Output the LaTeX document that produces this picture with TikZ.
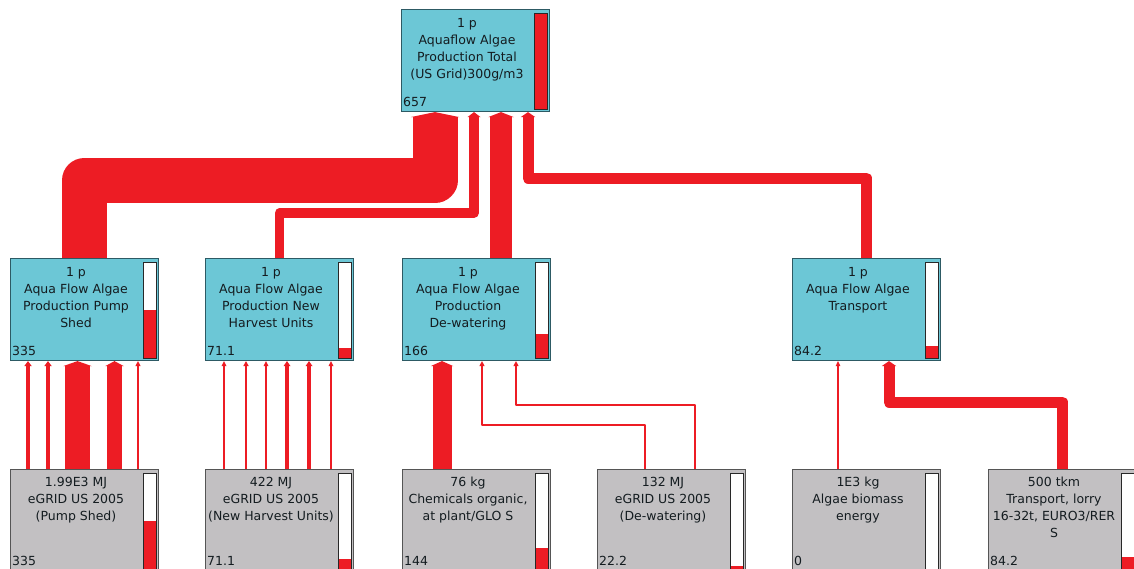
\documentclass[tikz,border=0pt]{standalone}
\usepackage{fontspec}
\setmainfont{DejaVu Sans}
\usetikzlibrary{arrows.meta,calc}
\pgfdeclarelayer{background}
\pgfsetlayers{background,main}
\definecolor{flowred}{RGB}{237,28,36}
\definecolor{procfill}{RGB}{108,199,214}
\definecolor{procdraw}{RGB}{45,90,100}
\definecolor{inpfill}{RGB}{194,192,194}
\definecolor{inpdraw}{RGB}{85,85,85}
\definecolor{txtcol}{RGB}{20,28,32}
\definecolor{bardraw}{RGB}{40,40,40}
\newcommand\gauge[2]{%
  \draw[fill=white, draw=bardraw, line width=0.9pt] ($(#1.north east)+(-16,4)$) rectangle ($(#1.south east)+(-3,-3)$);
  \fill[flowred] ($(#1.south east)+(-16,-3-95*#2)$) rectangle ($(#1.south east)+(-3,-3)$);
  \draw[draw=bardraw, line width=0.9pt] ($(#1.north east)+(-16,4)$) rectangle ($(#1.south east)+(-3,-3)$);
}
\begin{document}
\begin{tikzpicture}[x=1pt,y=-1pt,
  box/.style={rectangle, minimum width=148pt, minimum height=102pt, anchor=north west, inner sep=0pt, line width=1.1pt},
  proc/.style={box, fill=procfill, draw=procdraw},
  inp/.style={box, fill=inpfill, draw=inpdraw},
  lbl/.style={font=\fontsize{12.5}{17}\selectfont, text=txtcol, align=center, inner sep=0pt, anchor=north},
  val/.style={font=\fontsize{12.5}{15}\selectfont, text=txtcol, inner sep=0pt, anchor=base west},
  flow/.style={draw=flowred, line width=#1, line join=round, -{Triangle[length=5pt, width=3.5pt 1, line width=0pt]}},
]
\useasboundingbox (0,0) rectangle (1134,569);

% nodes
\node[proc] (top) at (401,9) {};
\node[proc] (pumpm) at (10,258) {};
\node[proc] (harvm) at (205,258) {};
\node[proc] (dewm) at (402,258) {};
\node[proc] (transm) at (792,258) {};
\node[inp] (pumpb) at (10,469) {};
\node[inp] (harvb) at (205,469) {};
\node[inp] (chemb) at (402,469) {};
\node[inp] (dewb) at (597,469) {};
\node[inp] (algb) at (792,469) {};
\node[inp] (lorryb) at (988,469) {};

% gauges
\gauge{top}{1}
\gauge{pumpm}{0.51}
\gauge{harvm}{0.108}
\gauge{dewm}{0.253}
\gauge{transm}{0.128}
\gauge{pumpb}{0.51}
\gauge{harvb}{0.108}
\gauge{chemb}{0.219}
\gauge{dewb}{0.034}
\draw[fill=white, draw=bardraw, line width=0.9pt] ($(algb.north east)+(-16,4)$) rectangle ($(algb.south east)+(-3,-3)$);
\gauge{lorryb}{0.128}

% labels
\node[lbl] at ($(top.north west)+(66,9)$) {1 p\\Aquaflow Algae\\Production Total\\(US Grid)300g/m3};
\node[lbl] at ($(pumpm.north west)+(66,9)$) {1 p\\Aqua Flow Algae\\Production Pump\\Shed};
\node[lbl] at ($(harvm.north west)+(66,9)$) {1 p\\Aqua Flow Algae\\Production New\\Harvest Units};
\node[lbl] at ($(dewm.north west)+(66,9)$) {1 p\\Aqua Flow Algae\\Production\\De-watering};
\node[lbl] at ($(transm.north west)+(66,9)$) {1 p\\Aqua Flow Algae\\Transport};
\node[lbl] at ($(pumpb.north west)+(66,8)$) {1.99E3 MJ\\eGRID US 2005\\(Pump Shed)};
\node[lbl] at ($(harvb.north west)+(66,8)$) {422 MJ\\eGRID US 2005\\(New Harvest Units)};
\node[lbl] at ($(chemb.north west)+(66,8)$) {76 kg\\Chemicals organic,\\at plant/GLO S};
\node[lbl] at ($(dewb.north west)+(66,8)$) {132 MJ\\eGRID US 2005\\(De-watering)};
\node[lbl] at ($(algb.north west)+(66,8)$) {1E3 kg\\Algae biomass\\energy};
\node[lbl] at ($(lorryb.north west)+(66,8)$) {500 tkm\\Transport, lorry\\16-32t, EURO3/RER\\S};

\node[val] at ($(top.south west)+(2,-5.5)$) {657};
\node[val] at ($(pumpm.south west)+(2,-5.5)$) {335};
\node[val] at ($(harvm.south west)+(2,-5.5)$) {71.1};
\node[val] at ($(dewm.south west)+(2,-5.5)$) {166};
\node[val] at ($(transm.south west)+(2,-5.5)$) {84.2};
\node[val] at ($(pumpb.south west)+(2,-6.5)$) {335};
\node[val] at ($(harvb.south west)+(2,-6.5)$) {71.1};
\node[val] at ($(chemb.south west)+(2,-6.5)$) {144};
\node[val] at ($(dewb.south west)+(2,-6.5)$) {22.2};
\node[val] at ($(algb.south west)+(2,-6.5)$) {0};
\node[val] at ($(lorryb.south west)+(2,-6.5)$) {84.2};

% slots on top node
\coordinate (s1) at ($(top.south west)+(34,0)$);
\coordinate (s2) at ($(top.south west)+(73,0)$);
\coordinate (s3) at ($(top.south west)+(100,0)$);
\coordinate (s4) at ($(top.south west)+(127,0)$);

\begin{pgfonlayer}{background}
\fill[white] (0,0) rectangle (1134,569);
\draw[flow=45pt] (pumpm.north) |- ($(s1)+(0,68)$) -- (s1);
\draw[flow=9.5pt] (harvm.north) |- ($(s2)+(0,101)$) -- (s2);
\draw[flow=22pt] (s3 |- dewm.north) -- (s3);
\draw[flow=11pt] (transm.north) |- ($(s4)+(0,66)$) -- (s4);

\foreach \o/\w in {18/4, 38/4, 67.5/25, 104.5/15, 128/1.8}
  \draw[flow=\w pt] ($(pumpb.north west)+(\o,0)$) -- ($(pumpm.south west)+(\o,0)$);
\foreach \o/\w in {19/1.5, 41/2, 61/1.5, 82/3.5, 104/3.5, 126/1.5}
  \draw[flow=\w pt] ($(harvb.north west)+(\o,0)$) -- ($(harvm.south west)+(\o,0)$);
\draw[flow=19pt] ($(chemb.north west)+(40,0)$) -- ($(dewm.south west)+(40,0)$);
\draw[flow=1.8pt] ($(dewb.north west)+(48,0)$) |- ($(dewm.south west)+(80,64)$) -- ($(dewm.south west)+(80,0)$);
\draw[flow=1.8pt] ($(dewb.north west)+(98,0)$) |- ($(dewm.south west)+(114,44)$) -- ($(dewm.south west)+(114,0)$);
\draw[flow=1.3pt] ($(algb.north west)+(46,0)$) -- ($(transm.south west)+(46,0)$);
\draw[flow=11pt] (lorryb.north) |- ($(transm.south west)+(97,41)$) -- ($(transm.south west)+(97,0)$);
\end{pgfonlayer}
\end{tikzpicture}
\end{document}
